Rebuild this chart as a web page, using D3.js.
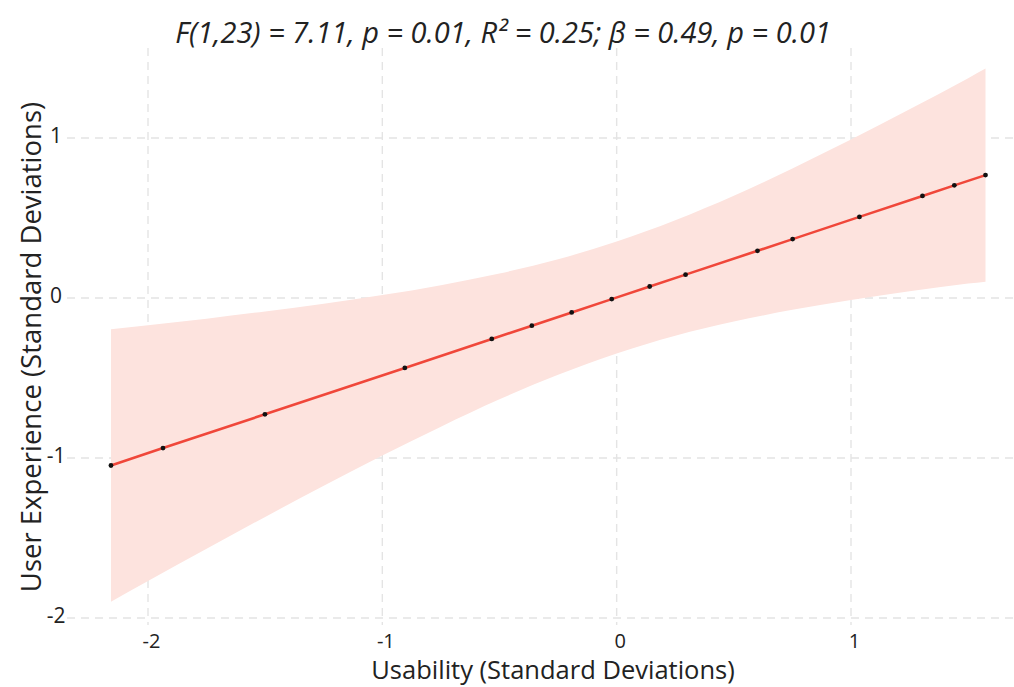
<!DOCTYPE html>
<html><head><meta charset="utf-8">
<script src="https://cdn.jsdelivr.net/npm/d3@7"></script>
<style>
html,body{margin:0;padding:0;background:#fff;}
text{font-family:"Open Sans","Noto Sans",sans-serif;}
</style></head>
<body>
<svg id="chart" width="1014" height="687"></svg>
<script>
// Data points (fitted values)
const pointX = [-2.158, -1.936, -1.501, -0.904, -0.533, -0.362, -0.192, -0.021, 0.141, 0.294, 0.601, 0.751, 1.036, 1.305, 1.441, 1.574];
const pointY = [-1.047, -0.938, -0.727, -0.437, -0.256, -0.173, -0.090, -0.007, 0.072, 0.146, 0.295, 0.368, 0.507, 0.638, 0.704, 0.768];
// Confidence band
const bandX     = [-2.158, -2.0, -1.75, -1.5, -1.25, -1.0, -0.75, -0.5, -0.25, 0.0, 0.25, 0.5, 0.75, 1.0, 1.25, 1.5, 1.574];
const bandUpper = [-0.196, -0.170, -0.129, -0.084, -0.036, 0.018, 0.080, 0.153, 0.242, 0.353, 0.486, 0.639, 0.810, 0.990, 1.180, 1.374, 1.434];
const bandLower = [-1.898, -1.768, -1.567, -1.368, -1.174, -0.984, -0.804, -0.633, -0.480, -0.347, -0.236, -0.147, -0.074, -0.012, 0.042, 0.090, 0.102];
const xTicks = [-2, -1, 0, 1];
const yTicks = [-2, -1, 0, 1];
const titleText = "F(1,23) = 7.11, p = 0.01, R² = 0.25; β = 0.49, p = 0.01";
const xLabel = "Usability (Standard Deviations)";
const yLabel = "User Experience (Standard Deviations)";

const svg = d3.select("#chart");
const mLeft = 67, mRight = 1014, mTop = 48, mBottom = 625;
const x = d3.scaleLinear().domain([-2, 1]).range([148, 851]);
const y = d3.scaleLinear().domain([-2, 1]).range([618, 138]);

// grid
const grid = svg.append("g");
grid.selectAll("line.h").data(yTicks).join("line").attr("class", "h")
  .attr("x1", mLeft).attr("x2", mRight)
  .attr("y1", d => y(d)).attr("y2", d => y(d))
  .attr("stroke", "#e4e4e4").attr("stroke-width", 1.4).attr("stroke-dasharray", "8,6");
grid.selectAll("line.v").data(xTicks).join("line").attr("class", "v")
  .attr("y1", mTop).attr("y2", mBottom)
  .attr("x1", d => x(d)).attr("x2", d => x(d))
  .attr("stroke", "#e4e4e4").attr("stroke-width", 1.4).attr("stroke-dasharray", "8,6");

// band
const bandData = bandX.map((d, i) => ({x: d, lo: bandLower[i], hi: bandUpper[i]}));
svg.append("path").datum(bandData)
  .attr("d", d3.area().x(d => x(d.x)).y0(d => y(d.lo)).y1(d => y(d.hi)).curve(d3.curveMonotoneX))
  .attr("fill", "#fde3de");

// line
const pts = pointX.map((d, i) => ({x: d, y: pointY[i]}));
svg.append("path").datum(pts)
  .attr("d", d3.line().x(d => x(d.x)).y(d => y(d.y)))
  .attr("fill", "none").attr("stroke", "#f0473a").attr("stroke-width", 2.6);

svg.selectAll("circle").data(pts).join("circle")
  .attr("cx", d => x(d.x)).attr("cy", d => y(d.y)).attr("r", 2.4)
  .attr("fill", "#111");

// axes tick labels
const fmt = d => String(d);
const xAxis = d3.axisBottom(x).tickValues(xTicks).tickSize(0).tickPadding(0).tickFormat(fmt);
const gx = svg.append("g").attr("transform", `translate(3,634)`).call(xAxis);
gx.select(".domain").remove();
gx.selectAll("text").attr("font-size", 20).attr("fill", "#222").attr("dy", "0.71em")
  .style("font-family", '"Open Sans","Noto Sans",sans-serif');

const yAxis = d3.axisLeft(y).tickValues(yTicks).tickSize(0).tickPadding(0).tickFormat(fmt);
const gy = svg.append("g").attr("transform", `translate(56,-2)`).call(yAxis);
gy.select(".domain").remove();
gy.selectAll("text").attr("font-size", 21).attr("fill", "#222").attr("text-anchor", "middle")
  .style("font-family", '"Open Sans","Noto Sans",sans-serif');

// title
svg.append("text").attr("x", 503).attr("y", 43).attr("text-anchor", "middle")
  .attr("font-size", 29).attr("font-style", "italic").attr("fill", "#222").text(titleText);

svg.append("text").attr("x", 553).attr("y", 679).attr("text-anchor", "middle")
  .attr("font-size", 25.5).attr("fill", "#222").text(xLabel);

svg.append("text").attr("transform", `translate(41,347) rotate(-90)`).attr("text-anchor", "middle")
  .attr("font-size", 27.5).attr("fill", "#222").text(yLabel);
</script>
</body></html>
